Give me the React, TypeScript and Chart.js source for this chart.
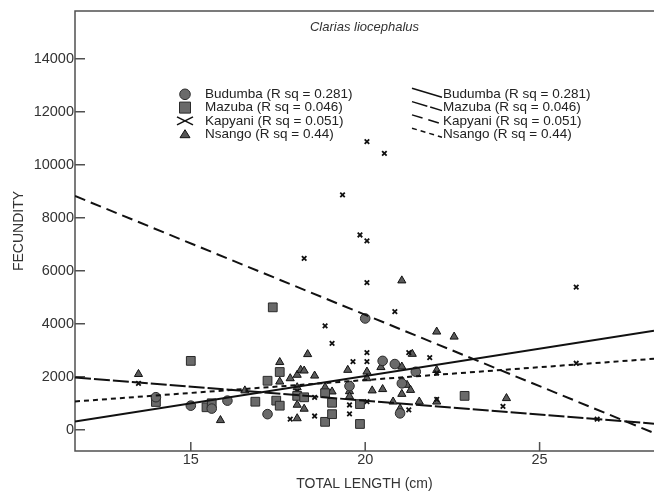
import React, { useEffect, useRef } from "react";
import { Chart, registerables } from "chart.js";

Chart.register(...registerables);

// ---- data ----
const SERIES = ["Budumba", "Mazuba", "Kapyani", "Nsango"];
const RSQ = ["0.281", "0.046", "0.051", "0.44"];
const CHART_TITLE = "Clarias liocephalus";
const X_TITLE = "TOTAL LENGTH (cm)";
const Y_TITLE = "FECUNDITY";

const X_MIN = 11.68;
const X_MAX = 28.28;
const Y_MIN = -800;
const Y_MAX = 15800;
const X_TICKS = [15, 20, 25];
const Y_TICKS = [0, 2000, 4000, 6000, 8000, 10000, 12000, 14000];

const BUDUMBA_X = [14.0, 15.0, 15.6, 16.05, 17.2, 19.55, 20.0, 20.5, 20.85, 21.0, 21.05, 21.45];
const BUDUMBA_Y = [1230, 910, 800, 1100, 590, 1650, 4200, 2600, 2480, 620, 1750, 2190];

const MAZUBA_X = [14.0, 15.0, 15.45, 15.6, 16.85, 17.2, 17.35, 17.45, 17.55, 17.55, 18.05, 18.25, 18.85, 18.85, 19.05, 19.05, 19.85, 19.85, 22.85];
const MAZUBA_Y = [1050, 2600, 850, 1000, 1060, 1850, 4620, 1100, 910, 2180, 1280, 1226, 1380, 300, 1020, 590, 970, 220, 1280];

const KAPYANI_X = [13.5, 17.85, 18.05, 18.25, 18.55, 18.55, 18.85, 19.05, 19.35, 19.55, 19.55, 19.55, 19.65, 19.85, 20.05, 20.05, 20.05, 20.05, 20.05, 20.05, 20.55, 20.85, 21.05, 21.25, 21.25, 21.85, 22.05, 22.05, 23.95, 26.05, 26.05, 26.65];
const KAPYANI_Y = [1750, 400, 1450, 6470, 1226, 520, 3920, 3260, 8860, 1750, 936, 600, 2570, 7350, 7130, 10870, 2910, 2570, 5550, 1060, 10430, 4460, 1880, 2910, 750, 2720, 2150, 1150, 880, 5380, 2510, 400];

const NSANGO_X = [13.5, 15.85, 16.55, 17.55, 17.55, 17.85, 18.05, 18.05, 18.05, 18.05, 18.15, 18.25, 18.25, 18.35, 18.55, 18.85, 19.05, 19.5, 19.55, 19.55, 20.05, 20.05, 20.2, 20.45, 20.5, 20.8, 21.0, 21.05, 21.05, 21.05, 21.2, 21.3, 21.35, 21.55, 22.05, 22.05, 22.05, 22.55, 24.05];
const NSANGO_Y = [2100, 360, 1480, 2550, 1815, 1940, 2070, 1600, 940, 430, 2256, 2230, 790, 2850, 2040, 1600, 1440, 2256, 1450, 1260, 2190, 1940, 1480, 2360, 1530, 1060, 800, 2380, 5630, 1350, 1690, 1500, 2860, 1060, 3700, 2250, 1060, 3510, 1190];

// fit line end points (at X_MIN, X_MAX)
const FIT_X = [X_MIN, X_MAX];
const BUDUMBA_FIT = [310, 3740];
const MAZUBA_FIT = [1975, 230];
const KAPYANI_FIT = [8820, -120];
const NSANGO_FIT = [1068, 2680];

// ---- styles ----
const FONT = '"Liberation Sans", Arial, sans-serif';
const AXIS_COLOR = "#505050";
const TEXT_COLOR = "#333333";
const MARK_FILL = "#6a6a6a";
const MARK_EDGE = "#2a2a2a";
const LINE_COLOR = "#111111";
const DASHES = [[], [16, 3], [11, 6], [5, 4]];

const zip = (xs: number[], ys: number[]) => xs.map((x, i) => ({ x, y: ys[i] }));

// make the plot area reach the right edge of the canvas
const fixAreaPlugin = {
  id: "fixArea",
  afterLayout(chart: any) {
    const R = chart.width;
    const x = chart.scales.x;
    chart.chartArea.right = R;
    chart.chartArea.width = R - chart.chartArea.left;
    x.right = R;
    x.width = R - x.left;
    x.configure();
  },
};

const framePlugin = {
  id: "spssFrame",
  beforeDatasetsDraw(chart: any) {
    const { ctx, chartArea } = chart;
    const { left, right, top, bottom } = chartArea;
    const xs = chart.scales.x;
    const ys = chart.scales.y;
    ctx.save();
    ctx.strokeStyle = AXIS_COLOR;
    ctx.lineWidth = 1.5;
    ctx.beginPath();
    ctx.moveTo(right, top);
    ctx.lineTo(left, top);
    ctx.lineTo(left, bottom);
    ctx.lineTo(right, bottom);
    for (const v of Y_TICKS) {
      const p = ys.getPixelForValue(v);
      ctx.moveTo(left, p);
      ctx.lineTo(left + 10, p);
    }
    for (const v of X_TICKS) {
      const p = xs.getPixelForValue(v);
      ctx.moveTo(p, bottom);
      ctx.lineTo(p, bottom - 9);
    }
    ctx.stroke();
    ctx.restore();
  },
  afterDraw(chart: any) {
    const { ctx, chartArea } = chart;
    const cx = (chartArea.left + chartArea.right) / 2;
    ctx.save();
    // chart title inside plot
    ctx.fillStyle = TEXT_COLOR;
    ctx.font = `italic 13px ${FONT}`;
    ctx.textAlign = "center";
    ctx.textBaseline = "middle";
    ctx.fillText(CHART_TITLE, cx, chartArea.top + 16);

    // legend
    const rowH = 13.3;
    const y0 = chartArea.top + 83.3;
    const mx = 185;
    const tx = 205;
    const lx0 = 412;
    const lx1 = 442;
    const tx2 = 443;
    ctx.textAlign = "left";
    ctx.font = `13.5px ${FONT}`;
    SERIES.forEach((name, i) => {
      const y = y0 + i * rowH;
      const label = `${name} (R sq = ${RSQ[i]})`;
      ctx.save();
      ctx.fillStyle = MARK_FILL;
      ctx.strokeStyle = MARK_EDGE;
      ctx.lineWidth = 1;
      ctx.beginPath();
      if (i === 0) {
        ctx.arc(mx, y, 5.3, 0, Math.PI * 2);
        ctx.fill();
        ctx.stroke();
      } else if (i === 1) {
        ctx.rect(mx - 5.5, y - 5.5, 11, 11);
        ctx.fill();
        ctx.stroke();
      } else if (i === 2) {
        ctx.strokeStyle = "#111";
        ctx.lineWidth = 1.6;
        ctx.moveTo(mx - 8, y - 4);
        ctx.lineTo(mx + 8, y + 4);
        ctx.moveTo(mx - 8, y + 4);
        ctx.lineTo(mx + 8, y - 4);
        ctx.stroke();
      } else {
        ctx.strokeStyle = "#111";
        ctx.fillStyle = "#555";
        ctx.moveTo(mx, y - 4.5);
        ctx.lineTo(mx + 5, y + 3.5);
        ctx.lineTo(mx - 5, y + 3.5);
        ctx.closePath();
        ctx.fill();
        ctx.stroke();
      }
      ctx.restore();
      ctx.fillStyle = "#222";
      ctx.fillText(label, tx, y);
      ctx.save();
      ctx.strokeStyle = LINE_COLOR;
      ctx.lineWidth = 1.5;
      ctx.setLineDash(DASHES[i]);
      ctx.beginPath();
      ctx.moveTo(lx0, y - 6);
      ctx.lineTo(lx1, y + 3);
      ctx.stroke();
      ctx.restore();
      ctx.fillText(label, tx2, y);
    });
    ctx.restore();
  },
};

export default function App() {
  const ref = useRef<HTMLCanvasElement | null>(null);

  useEffect(() => {
    document.documentElement.style.overflow = "hidden";
    document.body.style.margin = "0";
    document.body.style.overflow = "hidden";
    const canvas = ref.current;
    if (!canvas) return;

    const fits = [BUDUMBA_FIT, MAZUBA_FIT, KAPYANI_FIT, NSANGO_FIT];
    const lineSets = SERIES.map((name, i) => ({
      label: `${name} fit`,
      data: zip(FIT_X, fits[i]),
      showLine: true,
      borderColor: LINE_COLOR,
      borderWidth: 2,
      borderDash: DASHES[i],
      pointRadius: 0,
      fill: false,
    }));

    const pointSets = [
      {
        label: SERIES[0],
        data: zip(BUDUMBA_X, BUDUMBA_Y),
        pointStyle: "circle",
        pointRadius: 4.8,
        backgroundColor: MARK_FILL,
        borderColor: MARK_EDGE,
        borderWidth: 1,
      },
      {
        label: SERIES[1],
        data: zip(MAZUBA_X, MAZUBA_Y),
        pointStyle: "rect",
        pointRadius: 6.2,
        backgroundColor: MARK_FILL,
        borderColor: MARK_EDGE,
        borderWidth: 1,
      },
      {
        label: SERIES[2],
        data: zip(KAPYANI_X, KAPYANI_Y),
        pointStyle: "crossRot",
        pointRadius: 3.2,
        backgroundColor: "#111",
        borderColor: "#111",
        borderWidth: 1.8,
      },
      {
        label: SERIES[3],
        data: zip(NSANGO_X, NSANGO_Y),
        pointStyle: "triangle",
        pointRadius: 4.7,
        backgroundColor: "#5a5a5a",
        borderColor: "#111",
        borderWidth: 1,
      },
    ];

    const tickFont = { family: FONT, size: 14.5 };
    const titleFont = { family: FONT, size: 14 };

    const chart = new Chart(canvas, {
      type: "scatter",
      data: { datasets: [...lineSets, ...pointSets] as any },
      options: {
        animation: false,
        responsive: false,
        devicePixelRatio: 1,
        layout: { padding: { top: 11, right: 0, left: 0, bottom: 0 } },
        plugins: {
          legend: { display: false },
          tooltip: { enabled: false },
        },
        scales: {
          x: {
            type: "linear",
            min: X_MIN,
            max: X_MAX,
            afterBuildTicks: (s: any) => {
              s.ticks = X_TICKS.map((v) => ({ value: v }));
            },
            afterFit: (s: any) => {
              s.height = 42;
            },
            grid: { display: false, drawTicks: false },
            border: { display: false },
            ticks: {
              padding: 0,
              font: tickFont,
              color: TEXT_COLOR,
              callback: (v: any) => String(v),
            },
            title: {
              display: true,
              text: X_TITLE,
              font: titleFont,
              color: TEXT_COLOR,
              padding: { top: 0, bottom: 0 },
            },
          },
          y: {
            type: "linear",
            min: Y_MIN,
            max: Y_MAX,
            afterBuildTicks: (s: any) => {
              s.ticks = Y_TICKS.map((v) => ({ value: v }));
            },
            afterFit: (s: any) => {
              s.width = 75;
            },
            grid: { display: false, drawTicks: false },
            border: { display: false },
            ticks: {
              padding: 1,
              font: tickFont,
              color: TEXT_COLOR,
              callback: (v: any) => String(v),
            },
            title: {
              display: true,
              text: Y_TITLE,
              font: titleFont,
              color: TEXT_COLOR,
              padding: { top: 11, bottom: 0 },
            },
          },
        },
      } as any,
      plugins: [fixAreaPlugin, framePlugin],
    });

    return () => chart.destroy();
  }, []);

  return (
    <div style={{ width: 654, height: 493, background: "#fff", overflow: "hidden" }}>
      <canvas ref={ref} width={654} height={493} style={{ display: "block" }} />
    </div>
  );
}
